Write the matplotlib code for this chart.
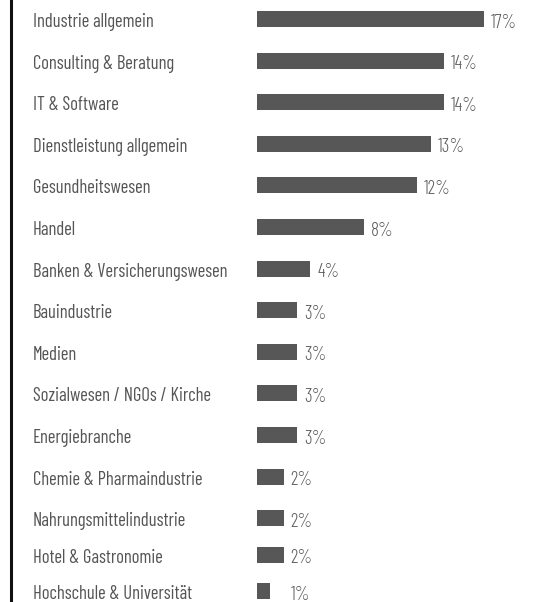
import matplotlib
matplotlib.use("Agg")
import matplotlib.pyplot as plt
import matplotlib.transforms as mtransforms
import numpy as np

# ---- data ----
categories = [
    "Industrie allgemein",
    "Consulting & Beratung",
    "IT & Software",
    "Dienstleistung allgemein",
    "Gesundheitswesen",
    "Handel",
    "Banken & Versicherungswesen",
    "Bauindustrie",
    "Medien",
    "Sozialwesen / NGOs / Kirche",
    "Energiebranche",
    "Chemie & Pharmaindustrie",
    "Nahrungsmittelindustrie",
    "Hotel & Gastronomie",
    "Hochschule & Universität",
]
values = [17, 14, 14, 13, 12, 8, 4, 3, 3, 3, 3, 2, 2, 2, 1]
value_labels = [f"{v}%" for v in values]

# ---- layout ----
W, H, DPI = 541, 602, 100
row_px = 41.6                 # spacing of the rows in pixels
row_gaps = [0.0] + [1.0] * 12 + [0.877] * 2
ypos = np.cumsum(row_gaps)
first_row_px = 19             # centre of first row from top
x0_px = 257                   # where the bars start
px_per_unit = 13.35           # pixels per percentage point
label_x_px = 33
axis_line_px = 11.3
bar_h = 16 / row_px
min_label_val = 2

bar_color = "#575757"
label_color = "#555555"
pct_color = "#5e5e5e"

fig = plt.figure(figsize=(W / DPI, H / DPI), dpi=DPI)
ax = fig.add_axes([0, 0, 1, 1])
ax.set_xlim(-x0_px / px_per_unit, (W - x0_px) / px_per_unit)
ax.set_ylim((H - first_row_px) / row_px, -first_row_px / row_px)
ax.axis("off")

ax.barh(ypos, values, height=bar_h, color=bar_color, left=0)

lab_x = -(x0_px - label_x_px) / px_per_unit
base_off = mtransforms.offset_copy(ax.transData, fig=fig, x=0, y=-8 * 72 / DPI, units="points")
pct_off = mtransforms.offset_copy(ax.transData, fig=fig, x=7 * 72 / DPI, y=-8.5 * 72 / DPI, units="points")

for y, cat, v, lab in zip(ypos, categories, values, value_labels):
    ax.text(lab_x, y, cat, transform=base_off, ha="left", va="baseline",
            family="Barlow Condensed", fontsize=13.4, color=label_color)
    ax.text(max(v, min_label_val), y, lab, transform=pct_off, ha="left", va="baseline",
            family="Barlow Condensed", fontweight=300, fontsize=13.5, color=pct_color)

# left vertical rule
fig.add_artist(plt.Line2D([axis_line_px / W] * 2, [0, 1], transform=fig.transFigure,
                          color="#111111", linewidth=2.2))

fig.savefig("out.png", dpi=DPI)
